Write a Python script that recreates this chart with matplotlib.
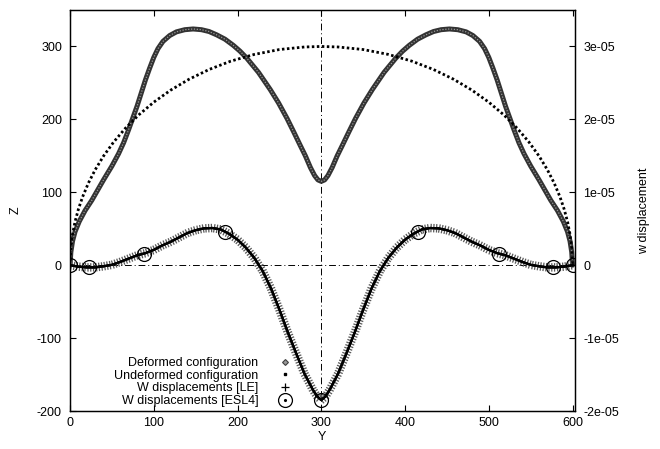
import numpy as np
import matplotlib.pyplot as plt
import matplotlib.patheffects as pe
from matplotlib.lines import Line2D

plt.rcParams['font.family'] = ['Liberation Sans', 'DejaVu Sans']
plt.rcParams['font.size'] = 9
plt.rcParams['axes.unicode_minus'] = False

# undeformed arch, points (Y, Z)
y_undef = [0, 1, 3, 6, 10, 15, 22, 30, 40, 52, 66, 82, 100, 120, 142, 166, 192, 220, 250, 280,
           300, 320, 350, 380, 408, 434, 458, 480, 500, 518, 534, 548, 560, 570, 578, 585, 590,
           594, 597, 599, 600]
z_undef = [0, 24.5, 42.3, 59.7, 76.8, 93.7, 112.8, 130.8, 149.7, 168.8, 187.7, 206.1, 223.6, 240,
           255.0, 268.4, 279.9, 289.1, 295.8, 299.3, 300, 299.3, 295.8, 289.1, 279.9, 268.4, 255.0,
           240, 223.6, 206.1, 187.7, 168.8, 149.7, 130.8, 112.8, 93.7, 76.8, 59.7, 42.3, 24.5, 0]

# deformed configuration (Y, Z)
y_def = [0, 1, 3, 6, 11, 18, 26, 33, 40, 50, 58, 64, 70, 75, 80, 85, 90, 95, 100, 105, 111, 119,
         127, 137, 147, 157, 166, 175, 185, 195, 203, 211, 225, 239, 249, 259, 267, 275, 281, 287,
         292, 296, 300, 304, 308, 313, 319, 325, 333, 341, 351, 361, 375, 389, 397, 405, 415, 425,
         434, 443, 453, 463, 473, 481, 489, 495, 500, 505, 510, 515, 520, 525, 530, 536, 542, 550,
         560, 567, 574, 582, 589, 594, 597, 599, 600]
z_def = [0, 18, 33, 46, 60, 75, 89, 103, 117, 136, 153, 168, 186, 202, 218, 236, 254, 270, 285, 297,
         307, 315, 320, 323, 324, 323, 320.5, 316, 310, 301.5, 293.5, 284, 264.5, 241, 222.5, 201.5,
         183, 164, 150, 134, 123, 117, 115, 117, 123, 134, 150, 164, 183, 201.5, 222.5, 241, 264.5,
         284, 293.5, 301.5, 310, 316, 320.5, 323, 324, 323, 320, 315, 307, 297, 285, 270, 254, 236,
         218, 202, 186, 168, 153, 136, 117, 103, 89, 75, 60, 46, 33, 18, 0]

# w displacement, LE solution (units of 1e-6)
y_le = [0, 10, 20, 30, 40, 50, 60, 70, 80, 90, 100, 110, 120, 130, 140, 150, 160, 170, 180, 190,
        200, 210, 220, 230, 240, 250, 260, 270, 280, 290, 295, 300, 305, 310, 320, 330, 340, 350,
        360, 370, 380, 390, 400, 410, 420, 430, 440, 450, 460, 470, 480, 490, 500, 510, 520, 530,
        540, 550, 560, 570, 580, 590, 600]
w_le = [0, -0.2, -0.3, -0.3, -0.15, 0.05, 0.45, 0.9, 1.35, 1.65, 2.1, 2.7, 3.2, 3.8, 4.4, 4.8, 5.05,
        5.1, 4.9, 4.3, 3.5, 2.4, 1.0, -0.8, -3.2, -6.1, -9.2, -12.1, -14.9, -17.1, -18.0, -18.5,
        -18.0, -17.1, -14.9, -12.1, -9.2, -6.1, -3.2, -0.8, 1.0, 2.4, 3.5, 4.3, 4.9, 5.1, 5.05, 4.8,
        4.4, 3.8, 3.2, 2.7, 2.1, 1.65, 1.35, 0.9, 0.45, 0.05, -0.15, -0.3, -0.3, -0.2, 0]

# w displacement, ESL4 solution (units of 1e-6)
y_esl = [0, 23, 88, 185, 300, 415, 512, 577, 600]
w_esl = [0, -0.25, 1.5, 4.6, -18.5, 4.6, 1.5, -0.25, 0]

y2_ticks = [-2e-05, -1e-05, 0, 1e-05, 2e-05, 3e-05]
y2_labels = ['-2e-05', '-1e-05', '0', '1e-05', '2e-05', '3e-05']

fig = plt.figure(figsize=(6.6, 4.49), dpi=100)
ax = fig.add_axes([0.1061, 0.0846, 0.7652, 0.8931])
ax2 = ax.twinx()

dashdot = (0, (7, 3, 1, 3))
ax.axhline(0, color='black', lw=0.7, ls=dashdot)
ax.axvline(300, color='black', lw=0.7, ls=dashdot)

# deformed: chain of small diamonds
ax.plot(y_def, z_def, color='0.2', lw=3.6, solid_capstyle='round')
ax.plot(y_def, z_def, color='0.6', lw=0.9, ls=(0, (1, 1.3)))
# undeformed: chain of dots
ax.plot(y_undef, z_undef, color='black', lw=2.0, ls=(0, (0.9, 0.9)))

w_le_arr = np.array(w_le) * 1e-6
w_esl_arr = np.array(w_esl) * 1e-6
plus_fx = [pe.withTickedStroke(angle=90, spacing=2.0, length=1.3, linewidth=0.9, foreground='0.35'),
           pe.withTickedStroke(angle=-90, spacing=2.0, length=1.3, linewidth=0.9, foreground='0.35'),
           pe.Normal()]
ax2.plot(y_le, w_le_arr, color='black', lw=1.6, path_effects=plus_fx)
ax2.plot(y_esl, w_esl_arr, ls='none', marker='o', ms=10, mfc='none', mec='black', mew=0.9)

ax.set_xlim(0, 603)
ax.set_ylim(-200, 350)
ax2.set_ylim(-2e-05, 3.5e-05)
ax.set_xticks([0, 100, 200, 300, 400, 500, 600])
ax.set_yticks([-200, -100, 0, 100, 200, 300])
ax2.set_yticks(y2_ticks, y2_labels)

ax.tick_params(axis='x', direction='in', length=4, width=0.8, top=True, pad=4.5)
ax.tick_params(axis='y', direction='in', length=4, width=0.8, right=False, pad=5.8)
ax2.tick_params(axis='y', direction='in', length=4, width=0.8, pad=5.8)
for a in (ax, ax2):
    for s in a.spines.values():
        s.set_linewidth(0.9)

ax.set_xlabel('Y')
ax.set_ylabel('Z')
ax2.set_ylabel('w displacement')
ax.xaxis.set_label_coords(0.499, -0.05)
ax.yaxis.set_label_coords(-0.095, 0.5)
ax2.yaxis.set_label_coords(1.125, 0.5)

handles = [
    Line2D([], [], ls='none', marker='D', ms=3, mfc='0.6', mec='0.25', mew=0.8),
    Line2D([], [], ls='none', marker='s', ms=2, color='black'),
    Line2D([], [], ls='none', marker='+', ms=6, mew=0.9, color='black'),
    (Line2D([], [], ls='none', marker='o', ms=10, mfc='none', mec='black', mew=0.9),
     Line2D([], [], ls='none', marker='.', ms=2.5, color='black')),
]
labels = ['Deformed configuration', 'Undeformed configuration',
          'W displacements [LE]', 'W displacements [ESL4]']
ax2.legend(handles, labels, loc='lower right', bbox_to_anchor=(291 / 660, 42 / 449),
           bbox_transform=fig.transFigure, frameon=False, markerfirst=False,
           handlelength=1.0, handletextpad=1.6, labelspacing=0.05, borderpad=0,
           borderaxespad=0)

fig.savefig('out.png', dpi=100)
